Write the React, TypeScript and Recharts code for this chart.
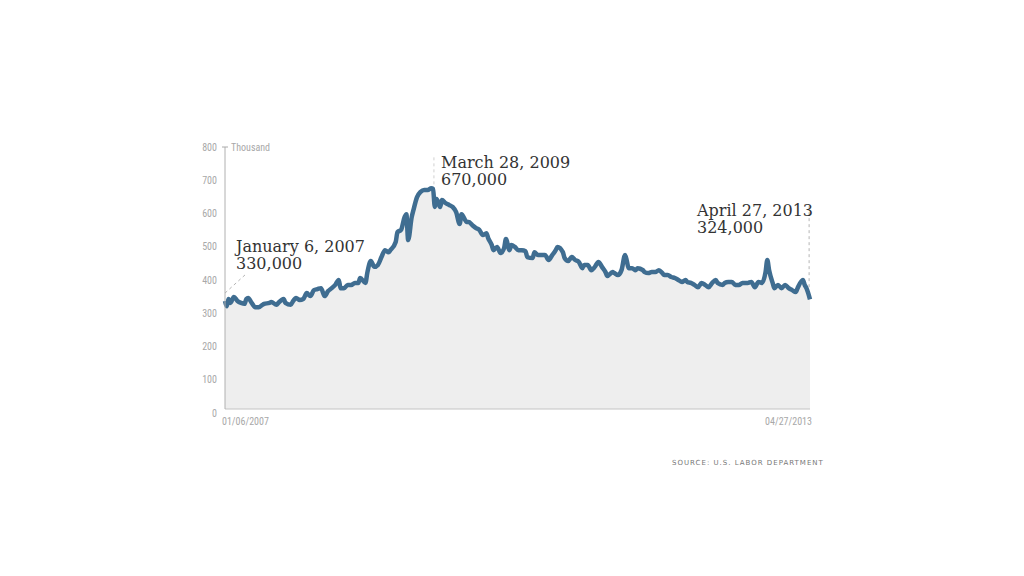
import React from 'react';
import { ComposedChart, Area, XAxis, YAxis, ReferenceLine } from 'recharts';

// Weeks since Jan 6, 2007 (weekly initial jobless claims, thousands)
const weeks = [0,1,2,3,5,7,9,11,12,13,15,17,19,21,22,25,26,29,30,33,34,37,38,40,42,44,46,48,50,52,54,56,58,60,62,64,65,67,69,71,73,75,76,79,80,82,84,86,88,90,92,93,96,97,99,101,102,103,105,106,108,110,112,114,116,117,118,119,121,122,124,126,128,130,132,133,136,137,139,141,143,145,147,148,150,151,153,155,157,158,160,161,163,165,167,169,170,173,174,176,178,180,182,184,186,187,190,191,193,195,197,199,201,202,204,206,208,210,212,214,215,218,219,221,223,225,226,227,229,231,232,235,236,238,240,242,244,246,247,249,251,253,255,257,259,260,262,264,266,268,270,272,274,276,277,280,281,283,285,287,289,291,292,294,296,298,300,302,304,305,306,308,309,311,313,315,317,319,321,322,325,326,327,329];
const claims = [330,314,336,324,342,330,324,321,336,339,324,311,311,318,321,324,327,318,324,336,324,318,327,339,333,336,354,345,363,366,369,345,360,369,379,394,369,369,379,379,385,385,400,385,415,452,434,440,464,485,479,485,510,540,547,586,595,516,586,608,647,663,669,669,674,672,617,641,617,638,629,623,617,601,565,595,571,571,562,553,547,531,537,522,501,485,495,476,492,519,485,501,495,485,485,482,464,461,479,470,470,470,455,470,485,495,479,461,452,464,455,449,430,440,440,424,434,449,434,418,406,418,415,409,424,470,452,430,430,424,430,424,418,415,418,418,424,415,409,409,403,400,394,388,394,388,385,379,372,385,379,372,385,394,385,379,385,388,388,379,379,385,385,385,388,372,388,385,418,455,424,385,369,379,369,379,369,363,357,369,394,379,369,335];

const yTicks = [0, 100, 200, 300, 400, 500, 600, 700, 800];
const xTickWeeks = [0, 329];
const xTickLabels = ['01/06/2007', '04/27/2013'];
const unitLabel = 'Thousand';
const sourceText = 'SOURCE: U.S. LABOR DEPARTMENT';

const annotations = [
  { line1: 'January 6, 2007', line2: '330,000', x: 236, y: 252 },
  { line1: 'March 28, 2009', line2: '670,000', x: 441, y: 168 },
  { line1: 'April 27, 2013', line2: '324,000', x: 697, y: 216 },
];

const data = weeks.map((w, i) => ({ week: w, claims: claims[i] }));

const AXIS_FONT = '"Liberation Sans Narrow", "Roboto Condensed", "DejaVu Sans Condensed", Arial, sans-serif';
const SERIF = '"DejaVu Serif", "Liberation Serif", serif';

const YTick = (props: any) => {
  const { x, y, payload } = props;
  const v = payload.value as number;
  const dy = 4 * (1 - v / 800);
  return (
    <g>
      <text x={x} y={y + dy} dy={3.5} textAnchor="end" fill="#a8a8a8" fontSize={10} fontFamily={AXIS_FONT}>
        {v}
      </text>
      {v === 800 ? <line x1={x + 5} x2={x + 11} y1={y} y2={y} stroke="#aaa" strokeWidth={1} /> : null}
    </g>
  );
};

const XTick = (props: any) => {
  const { x, y, payload, index } = props;
  const i = xTickWeeks.indexOf(payload.value);
  return (
    <text x={index === 0 ? x - 3 : x + 2} y={y} dy={8} textAnchor={index === 0 ? 'start' : 'end'} fill="#a8a8a8" fontSize={10} fontFamily={AXIS_FONT}>
      {xTickLabels[i]}
    </text>
  );
};

export default function App() {
  return (
    <div style={{ position: 'absolute', left: 0, top: 0, width: 1024, height: 576, background: '#fff' }}>
      <ComposedChart width={1024} height={576} data={data} margin={{ top: 147, right: 214, bottom: 130, left: 165 }}>
        <XAxis
          type="number"
          dataKey="week"
          domain={[0, 329]}
          ticks={xTickWeeks}
          tick={<XTick />}
          tickLine={false}
          axisLine={{ stroke: '#c4c4c4' }}
          height={37}
          interval={0}
        />
        <YAxis
          type="number"
          domain={[0, 800]}
          ticks={yTicks}
          tick={<YTick />}
          tickLine={false}
          tickSize={0}
          tickMargin={8}
          axisLine={{ stroke: '#b0b0b0' }}
          width={60}
          interval={0}
        />
        <Area
          type="monotone"
          dataKey="claims"
          stroke="#3f6d91"
          strokeWidth={4.5}
          strokeLinejoin="round"
          fill="#eeeeee"
          fillOpacity={1}
          isAnimationActive={false}
          dot={false}
          activeDot={false}
        />
        <ReferenceLine segment={[{ x: 0, y: 354 }, { x: 12.4, y: 415 }]} stroke="#b5b5b5" strokeDasharray="3 3" ifOverflow="visible" />
        <ReferenceLine segment={[{ x: 117.5, y: 686 }, { x: 117.5, y: 776 }]} stroke="#d0d0d0" strokeDasharray="3 3" ifOverflow="visible" />
        <ReferenceLine segment={[{ x: 328.5, y: 372 }, { x: 328.5, y: 623 }]} stroke="#b5b5b5" strokeDasharray="3 3" ifOverflow="visible" />
      </ComposedChart>
      <svg width={1024} height={576} style={{ position: 'absolute', left: 0, top: 0, pointerEvents: 'none' }}>
        <text x={231} y={151} fill="#a8a8a8" fontSize={10} fontFamily={AXIS_FONT}>{unitLabel}</text>
        {annotations.map((a, i) => (
          <g key={i}>
            <text x={a.x} y={a.y} fill="#333" fontSize={16} fontFamily={SERIF}>{a.line1}</text>
            <text x={a.x} y={a.y + 17} fill="#333" fontSize={16} fontFamily={SERIF}>{a.line2}</text>
          </g>
        ))}
        <text x={672} y={465} fill="#777" fontSize={7} letterSpacing={1.0} fontFamily='"DejaVu Sans", sans-serif'>{sourceText}</text>
      </svg>
    </div>
  );
}
